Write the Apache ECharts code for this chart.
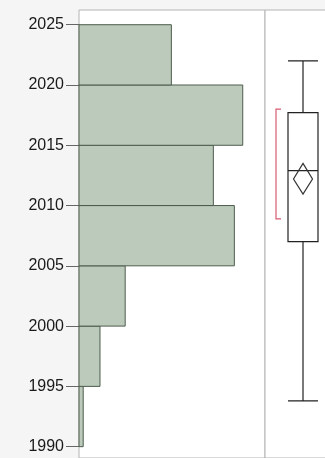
<!DOCTYPE html>
<html>
<head>
<meta charset="utf-8">
<script src="https://cdn.jsdelivr.net/npm/echarts@6/dist/echarts.min.js"></script>
<style>
  html, body { margin: 0; padding: 0; background: #f5f5f5; overflow: hidden; }
  #chart { width: 345px; height: 470px; }
</style>
</head>
<body>
<div id="chart"></div>
<script>
// histogram bins: [start, end]
const binStarts = [1990, 1995, 2000, 2005, 2010, 2015, 2020]
const binEnds = [1995, 2000, 2005, 2010, 2015, 2020, 2025]
const binCounts = [1, 5, 11, 37, 32, 39, 22]
const yTicks = [1990, 1995, 2000, 2005, 2010, 2015, 2020, 2025]

// box plot: min, q1, median, q3, max
const boxStats = [1993.8, 2007.0, 2012.9, 2017.7, 2022.0]
// mean diamond: mean, lower 95%, upper 95%
const meanDiamond = [2012.2, 2010.95, 2013.5]
// shortest half
const shortestHalf = [2008.9, 2018.0]

const yMin = 1989.06
const yMax = 2026.22

const chart = echarts.init(document.getElementById('chart'))

const histData = binStarts.map((s, i) => [s, binEnds[i], binCounts[i]])

chart.setOption({
  backgroundColor: '#f5f5f5',
  animation: false,
  grid: [
    { left: 79, top: 10, width: 186, height: 448, show: true, backgroundColor: '#fff', borderColor: '#b4b4b4', borderWidth: 1 },
    { left: 265, top: 10, width: 76, height: 448, show: true, backgroundColor: '#fff', borderColor: '#b4b4b4', borderWidth: 1 }
  ],
  xAxis: [
    { gridIndex: 0, type: 'value', min: 0, max: 44.3, show: false },
    { gridIndex: 1, type: 'category', data: ['x'], show: false }
  ],
  yAxis: [
    {
      gridIndex: 0, type: 'value', min: yMin, max: yMax,
      axisLine: { show: false },
      splitLine: { show: false },
      axisTick: { show: true, length: 13, lineStyle: { color: '#666' }, customValues: yTicks },
      axisLabel: {
        margin: 15, fontSize: 16, color: '#1a1a1a', fontFamily: 'Liberation Sans, Arial, sans-serif',
        customValues: yTicks,
        formatter: v => String(v)
      }
    },
    { gridIndex: 1, type: 'value', min: yMin, max: yMax, show: false, splitLine: { show: false } }
  ],
  series: [
    {
      type: 'custom',
      xAxisIndex: 0, yAxisIndex: 0,
      data: histData,
      renderItem: function (params, api) {
        const p1 = api.coord([0, api.value(1)])
        const p2 = api.coord([api.value(2), api.value(0)])
        return {
          type: 'rect',
          shape: { x: p1[0], y: p1[1], width: p2[0] - p1[0], height: p2[1] - p1[1] },
          style: { fill: '#bccabb', stroke: '#4c5c4c', lineWidth: 1 }
        }
      }
    },
    {
      type: 'boxplot',
      xAxisIndex: 1, yAxisIndex: 1,
      boxWidth: [30, 30],
      data: [boxStats],
      itemStyle: { color: '#fff', borderColor: '#222', borderWidth: 1.2 }
    },
    {
      type: 'custom',
      xAxisIndex: 1, yAxisIndex: 1,
      data: [[0].concat(meanDiamond)],
      z: 5,
      renderItem: function (params, api) {
        const c = api.coord([0, api.value(1)])
        const lo = api.coord([0, api.value(2)])
        const hi = api.coord([0, api.value(3)])
        const hw = 9.5
        return {
          type: 'polygon',
          shape: { points: [[c[0], hi[1]], [c[0] + hw, c[1]], [c[0], lo[1]], [c[0] - hw, c[1]]] },
          style: { fill: 'none', stroke: '#333', lineWidth: 1.2 }
        }
      }
    },
    {
      type: 'custom',
      xAxisIndex: 1, yAxisIndex: 1,
      data: [[0].concat(shortestHalf)],
      renderItem: function (params, api) {
        const lo = api.coord([0, api.value(1)])
        const hi = api.coord([0, api.value(2)])
        const x0 = lo[0] - 27
        const x1 = lo[0] - 22
        return {
          type: 'polyline',
          shape: { points: [[x1, hi[1]], [x0, hi[1]], [x0, lo[1]], [x1, lo[1]]] },
          style: { fill: 'none', stroke: '#d85a72', lineWidth: 1.2 }
        }
      }
    }
  ]
})
</script>
</body>
</html>
